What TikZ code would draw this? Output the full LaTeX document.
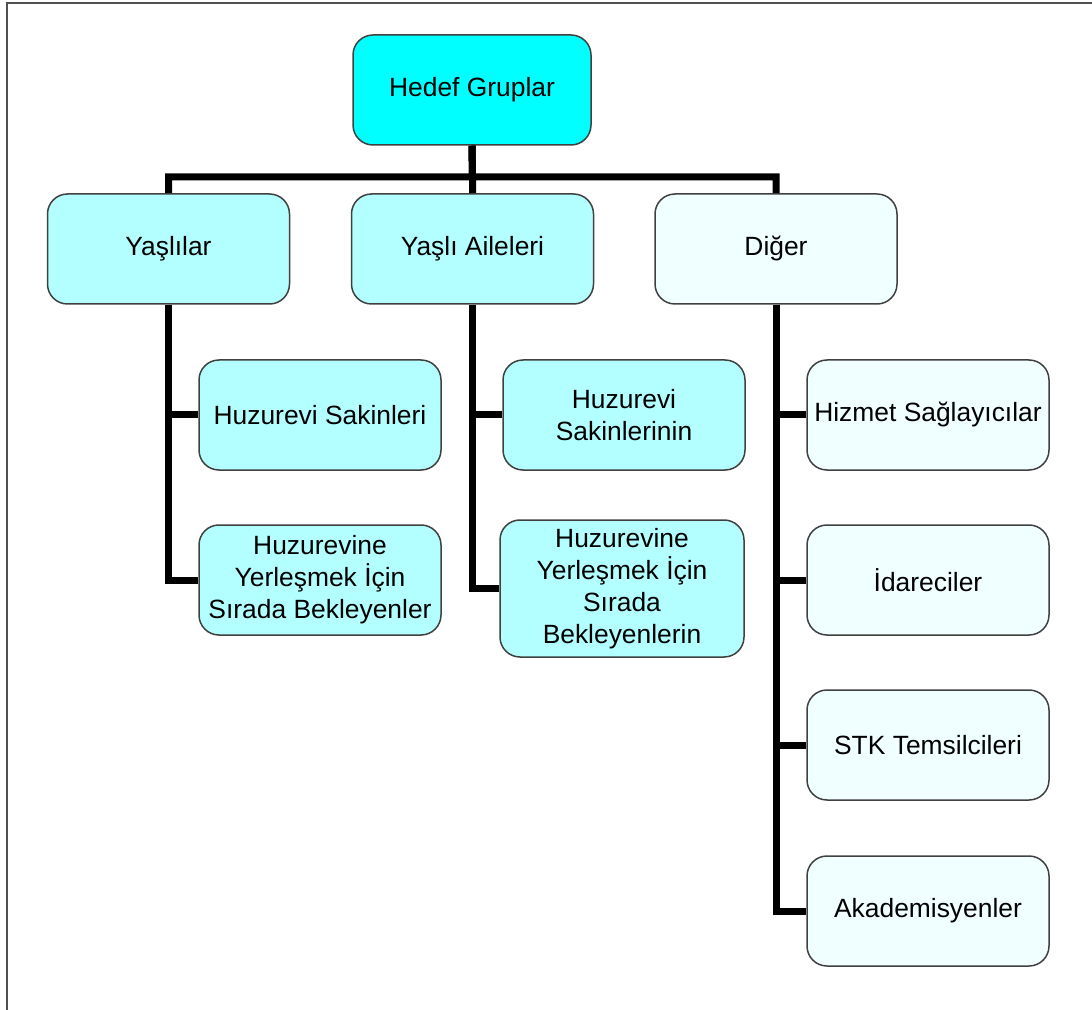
\documentclass[tikz,border=0pt]{standalone}
\usepackage{fontspec}
\setmainfont{Liberation Sans}
\usepackage{tikz}
\definecolor{rootcyan}{RGB}{0,255,255}
\definecolor{midcyan}{RGB}{179,255,255}
\definecolor{palecyan}{RGB}{240,255,255}
\definecolor{framegray}{RGB}{80,80,80}

\begin{document}
\begin{tikzpicture}[x=0.5pt,y=-0.5pt,
  box/.style args = {#1/#2}{rectangle, rounded corners=10pt, draw=black!75, line width=0.75pt, fill=#1, minimum width=121pt, minimum height=#2, align=center, inner sep=2pt, font=\fontsize{13.2}{16}\selectfont},
  link/.style = {draw=black, line width=3.5pt, line join=miter}]
\useasboundingbox (0,0) rectangle (1092,1010);
\draw[framegray, line width=1pt] (7,1010) -- (7,3) -- (1092,3);
% top
\node (root) [box=rootcyan/55pt, minimum width=119pt] at (472,90) {Hedef Gruplar};
\node (yas)  [box=midcyan/55pt]  at (168.5,249) {Yaşlılar};
\node (aile) [box=midcyan/55pt]  at (472.5,249) {Yaşlı Aileleri};
\node (dig)  [box=palecyan/55pt] at (776,249)   {Diğer};
% second level
\node (ys1) [box=midcyan/55pt] at (320,415) {Huzurevi Sakinleri};
\node (ys2) [box=midcyan/55pt] at (320,580) {Huzurevine\\Yerleşmek İçin\\Sırada Bekleyenler};
\node (ai1) [box=midcyan/55pt] at (624,415) {Huzurevi\\Sakinlerinin};
\node (ai2) [box=midcyan/68.5pt, minimum width=122pt] at (622,588.5) {Huzurevine\\Yerleşmek İçin\\Sırada\\Bekleyenlerin};
\node (dg1) [box=palecyan/55pt] at (928,415) {Hizmet Sağlayıcılar};
\node (dg2) [box=palecyan/55pt] at (928,580) {İdareciler};
\node (dg3) [box=palecyan/55pt] at (928,745) {STK Temsilcileri};
\node (dg4) [box=palecyan/55pt] at (928,911) {Akademisyenler};
\coordinate (bar) at (472.5,177);
\begin{scope}[on background layer/.try]
\foreach \to in {yas,aile,dig}
\draw[link] (root.south) -- (bar) -| (\to.north);
\foreach \from/\to in {yas/ys1,yas/ys2,aile/ai1,aile/ai2,dig/dg1,dig/dg2,dig/dg3,dig/dg4}
\draw[link] (\from.south) |- (\to.west);
\end{scope}
\end{tikzpicture}
\end{document}
